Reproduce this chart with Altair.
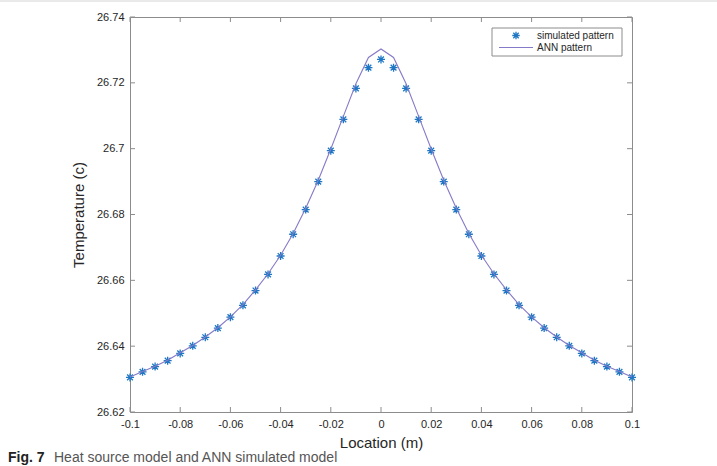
import altair as alt
import pandas as pd

# Sample locations along the line (m)
location = [
    -0.100, -0.095, -0.090, -0.085, -0.080, -0.075, -0.070, -0.065, -0.060, -0.055,
    -0.050, -0.045, -0.040, -0.035, -0.030, -0.025, -0.020, -0.015, -0.010, -0.005,
    0.000,
    0.005, 0.010, 0.015, 0.020, 0.025, 0.030, 0.035, 0.040, 0.045, 0.050,
    0.055, 0.060, 0.065, 0.070, 0.075, 0.080, 0.085, 0.090, 0.095, 0.100,
]

# Heat source model output (temperature, c)
simulated = [
    26.6305, 26.6322, 26.6338, 26.6356, 26.6378, 26.6401, 26.6427, 26.6455, 26.6488, 26.6524,
    26.6569, 26.6618, 26.6674, 26.6740, 26.6815, 26.6900, 26.6994, 26.7089, 26.7183, 26.7246,
    26.7271,
    26.7246, 26.7183, 26.7089, 26.6994, 26.6900, 26.6815, 26.6740, 26.6674, 26.6618, 26.6569,
    26.6524, 26.6488, 26.6455, 26.6427, 26.6401, 26.6378, 26.6356, 26.6338, 26.6322, 26.6305,
]

# ANN prediction (temperature, c)
ann = [
    26.6306, 26.6323, 26.6339, 26.6357, 26.6380, 26.6402, 26.6428, 26.6456, 26.6489, 26.6526,
    26.6571, 26.6620, 26.6676, 26.6742, 26.6819, 26.6904, 26.6999, 26.7098, 26.7197, 26.7277,
    26.7303,
    26.7277, 26.7197, 26.7098, 26.6999, 26.6904, 26.6819, 26.6742, 26.6676, 26.6620, 26.6571,
    26.6526, 26.6489, 26.6456, 26.6428, 26.6402, 26.6380, 26.6357, 26.6339, 26.6323, 26.6306,
]

x_ticks = [-0.1, -0.08, -0.06, -0.04, -0.02, 0, 0.02, 0.04, 0.06, 0.08, 0.1]
y_ticks = [26.62, 26.64, 26.66, 26.68, 26.70, 26.72, 26.74]

legend_labels = ["simulated pattern", "ANN pattern"]
caption_tag = "Fig. 7"
caption_text = "Heat source model and ANN simulated model"

W, H = 502, 395
FONT = "Liberation Sans"
BOX = "#8c8c8c"
STAR_BLUE = "#1f77c4"
LINE_PURPLE = "#857ac8"
STAR = "M0,-1L0,1M-1,0L1,0M-0.72,-0.72L0.72,0.72M-0.72,0.72L0.72,-0.72"

df = pd.DataFrame({"location": location, "simulated": simulated, "ann": ann})
xt = pd.DataFrame({"t": x_ticks})
yt = pd.DataFrame({"t": y_ticks})
one = pd.DataFrame({"k": [0]})

x_scale = alt.Scale(domain=[-0.1, 0.1], nice=False, zero=False)
y_scale = alt.Scale(domain=[26.62, 26.74], nice=False, zero=False)

label_expr = "replace(format(datum.value, '~g'), '\u2212', '-')"

x_axis = alt.Axis(
    values=x_ticks, title="Location (m)", labelExpr=label_expr,
    tickSize=0, domain=False, grid=False, labelPadding=6, titlePadding=6,
    labelFont=FONT, labelFontSize=11, labelColor="#262626",
    titleFont=FONT, titleFontSize=15, titleFontWeight="normal", titleColor="#262626",
    labelFlush=False,
)
y_axis = alt.Axis(
    values=y_ticks, title="Temperature (c)", labelExpr=label_expr,
    tickSize=0, domain=False, grid=False, labelPadding=6, titlePadding=10,
    labelFont=FONT, labelFontSize=11, labelColor="#262626",
    titleFont=FONT, titleFontSize=15, titleFontWeight="normal", titleColor="#262626",
    labelFlush=False,
)

points = alt.Chart(df).mark_point(
    shape=STAR, filled=False, size=64, strokeWidth=1.3, color=STAR_BLUE, opacity=1
).encode(
    x=alt.X("location:Q", scale=x_scale, axis=x_axis),
    y=alt.Y("simulated:Q", scale=y_scale, axis=y_axis),
)

line = alt.Chart(df).mark_line(color=LINE_PURPLE, strokeWidth=1.1).encode(
    x=alt.X("location:Q", scale=x_scale, axis=x_axis),
    y=alt.Y("ann:Q", scale=y_scale, axis=y_axis),
)

# Inward ticks on all four sides of the box
tick_bottom = alt.Chart(xt).mark_rule(color=BOX, strokeWidth=1).encode(
    x=alt.X("t:Q", scale=x_scale, axis=x_axis), y=alt.value(H), y2=alt.value(H - 5)
)
tick_top = alt.Chart(xt).mark_rule(color=BOX, strokeWidth=1).encode(
    x=alt.X("t:Q", scale=x_scale, axis=x_axis), y=alt.value(0), y2=alt.value(5)
)
tick_left = alt.Chart(yt).mark_rule(color=BOX, strokeWidth=1).encode(
    y=alt.Y("t:Q", scale=y_scale, axis=y_axis), x=alt.value(0), x2=alt.value(5)
)
tick_right = alt.Chart(yt).mark_rule(color=BOX, strokeWidth=1).encode(
    y=alt.Y("t:Q", scale=y_scale, axis=y_axis), x=alt.value(W), x2=alt.value(W - 5)
)

# Legend box in the upper right corner
leg_box = alt.Chart(one).mark_rect(fill="white", stroke=BOX, strokeWidth=1).encode(
    x=alt.value(362), x2=alt.value(492), y=alt.value(11), y2=alt.value(39)
)
leg_star = alt.Chart(one).mark_point(
    shape=STAR, filled=False, size=56, strokeWidth=1.3, color=STAR_BLUE, opacity=1
).encode(x=alt.value(386), y=alt.value(18.5))
leg_line = alt.Chart(one).mark_rule(color=LINE_PURPLE, strokeWidth=1.1).encode(
    x=alt.value(369), x2=alt.value(403), y=alt.value(30.5)
)
leg_text1 = alt.Chart(one).mark_text(
    text=legend_labels[0], font=FONT, fontSize=10, align="left", baseline="middle", color="#262626"
).encode(x=alt.value(407), y=alt.value(18.5))
leg_text2 = alt.Chart(one).mark_text(
    text=legend_labels[1], font=FONT, fontSize=10, align="left", baseline="middle", color="#262626"
).encode(x=alt.value(407), y=alt.value(30.5))

# Figure caption below the plot
cap_tag = alt.Chart(one).mark_text(
    text=caption_tag, font=FONT, fontSize=14, fontWeight="bold", align="left",
    baseline="alphabetic", color="#222222"
).encode(x=alt.value(-122), y=alt.value(445))
cap_text = alt.Chart(one).mark_text(
    text=caption_text, font=FONT, fontSize=14, align="left",
    baseline="alphabetic", color="#555555"
).encode(x=alt.value(-76), y=alt.value(445))

top_rule = alt.Chart(one).mark_rule(color="#d4d4d4", strokeWidth=1).encode(
    x=alt.value(-130), x2=alt.value(W + 85), y=alt.value(-16)
)

chart = alt.layer(
    points, line, tick_bottom, tick_top, tick_left, tick_right,
    leg_box, leg_star, leg_line, leg_text1, leg_text2,
    cap_tag, cap_text, top_rule,
).properties(
    width=W, height=H,
    padding={"left": 130, "top": 17, "right": 85, "bottom": 54},
    autosize=alt.AutoSizeParams(type="none"),
    background="white",
).configure_view(stroke=BOX, strokeWidth=1)

chart.save("out.html", embed_options={"renderer": "svg", "actions": False})
